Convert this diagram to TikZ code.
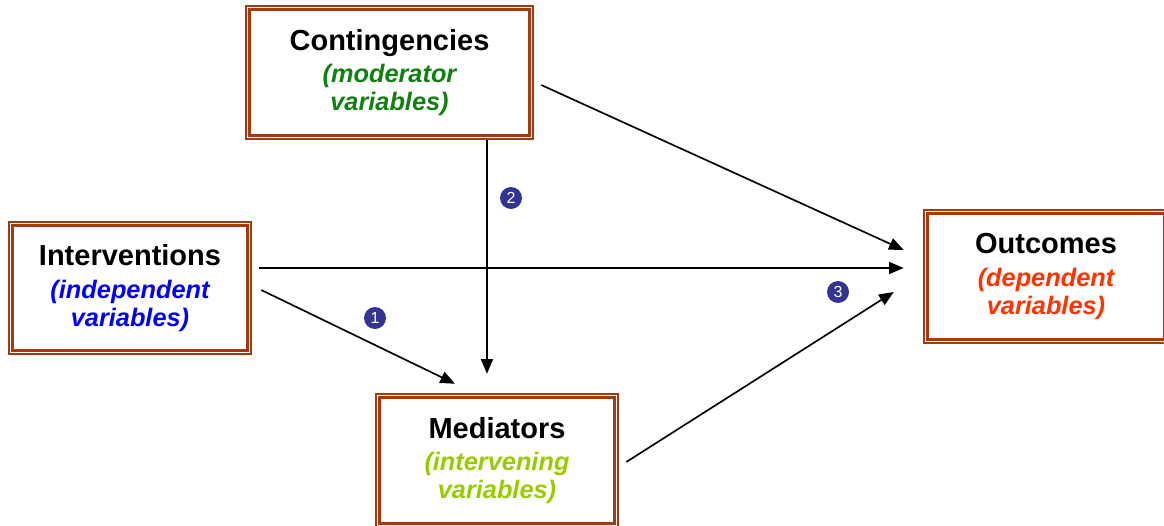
\documentclass[tikz,border=0pt]{standalone}
\usepackage{fontspec}
\setmainfont{Liberation Sans}
\usetikzlibrary{arrows.meta,calc}

\definecolor{framebrown}{RGB}{163,58,16}
\definecolor{modgreen}{RGB}{16,128,16}
\definecolor{indblue}{RGB}{0,0,255}
\definecolor{medgreen}{RGB}{153,204,0}
\definecolor{depred}{RGB}{255,51,0}
\definecolor{badgeblue}{RGB}{51,51,145}

\newcommand{\subtxt}[2]{\textcolor{#1}{\fontsize{19}{21}\selectfont\bfseries\itshape #2}}

\tikzset{
  varbox/.style={draw=framebrown, line width=1.9pt, fill=white, align=center,
    font=\fontsize{21.75}{21}\selectfont\bfseries, inner sep=0pt},
  innerframe/.style={draw=framebrown, line width=2.2pt},
  link/.style={line width=1.25pt, -{Triangle[length=11pt,width=9pt]}},
  badge/.style={circle, fill=badgeblue, text=white, minimum size=16.5pt, inner sep=0pt,
    font=\fontsize{12}{12}\selectfont}
}

\begin{document}
\begin{tikzpicture}[x=0.75pt,y=-0.75pt]
  \useasboundingbox (0,0) rectangle (1164,525);

  % 绘制方框
  \node[varbox, minimum width=215.25pt, minimum height=99.75pt] (cont) at (389.5,72.5)
    {Contingencies\\[3.5pt]\subtxt{modgreen}{(moderator}\\\subtxt{modgreen}{variables)}};
  \node[varbox, minimum width=181.5pt, minimum height=99pt] (interv) at (130,288)
    {Interventions\\[3.5pt]\subtxt{indblue}{(independent}\\\subtxt{indblue}{variables)}};
  \node[varbox, minimum width=181.5pt, minimum height=99.75pt] (med) at (497,460.5)
    {Mediators\\[3.5pt]\subtxt{medgreen}{(intervening}\\\subtxt{medgreen}{variables)}};
  \node[varbox, minimum width=183pt, minimum height=99.75pt] (outc) at (1046,276.5)
    {Outcomes\\[3.5pt]\subtxt{depred}{(dependent}\\\subtxt{depred}{variables)}};

  % 内框
  \foreach \n in {cont,interv,med,outc}
    \draw[innerframe] ($(\n.north west)+(4.5,4.5)$) rectangle ($(\n.south east)+(-4.5,-4.5)$);

  % 绘制箭头
  \draw[link] ($(cont.east)+(7,12.5)$) -- ($(outc.west)+(-19,-26.5)$);
  \draw[link] ($(interv.east)+(7,-20)$) -- ($(outc.west)+(-19,-8.5)$);
  \draw[link] ($(interv.east)+(9,2)$) -- ($(med.north)+(-42,-9)$);
  \draw[link] ($(cont.south)+(97.5,0)$) -- ($(med.north)+(-10,-19)$);
  \draw[link] ($(med.east)+(7,1.5)$) -- ($(outc.west)+(-29,15.5)$);

  % 编号
  \node[badge] (b1) at (375,318) {1};
  \node[badge] (b2) at (511,198) {2};
  \node[badge] (b3) at (838,292) {3};
\end{tikzpicture}
\end{document}
